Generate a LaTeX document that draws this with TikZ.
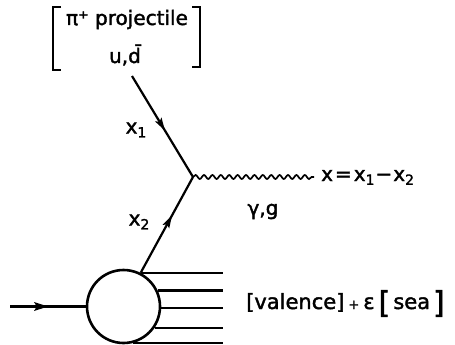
\documentclass[tikz,border=0pt]{standalone}
\usepackage{fontspec}
\setmainfont[FakeBold=1.8]{DejaVu Sans}
\usetikzlibrary{calc,decorations.pathmorphing}
\newcommand\sbx[1]{\raisebox{-0.35ex}{\fontsize{14}{14}\selectfont #1}}
% filled arrowhead: #1 tip, #2 point behind, #3 length, #4 half width
\newcommand\headtip[4]{%
  \fill ($(#1)!#3!(#2)$) coordinate (hb)
        ($(hb)!#4!90:(#1)$) -- (#1) -- ($(hb)!#4!-90:(#1)$) -- ($(#1)!0.8*#3!(#2)$) -- cycle;}
\begin{document}
\begin{tikzpicture}[x=1pt,y=-1pt,
  line/.style={line width=2.2pt},
  lbl/.style={inner sep=0pt,font=\fontsize{20}{20}\selectfont},
  brk/.style={line width=2.4pt}]
\useasboundingbox (0,0) rectangle (455,345);
% points
\coordinate (top) at (132,76);
\coordinate (v) at (193,177);
\coordinate (w) at (314,177);
\coordinate (in) at (10,306.5);
\coordinate (rx) at (223,0);
\node[circle,draw,line width=2.6pt,minimum size=73pt,inner sep=0pt] (blob) at (123.5,306.5) {};
% projectile label
\node[lbl,anchor=base] (proj1) at (127,25) {π⁺ projectile};
\node[lbl,anchor=base] (proj2) at (125,63) {u,\=d};
\draw[brk] (61,7) -- (53,7) -- (53,70) -- (61,70);
\draw[brk] (192,7) -- (200,7) -- (200,67) -- (192,67);
% quark lines
\draw[line] (top) -- (v);
\coordinate (t1) at ($(top)!0.54!(v)$);
\headtip{t1}{top}{13pt}{3.8pt}
\draw[line] (blob.63.8) -- (v);
\coordinate (t2) at ($(blob.63.8)!0.6!(v)$);
\headtip{t2}{blob.63.8}{13pt}{3.8pt}
\draw[line width=1.7pt,decorate,decoration={snake,segment length=8.4pt,amplitude=2pt}] (v) -- (w);
% labels
\node[lbl] (x1) at (136,130) {x\sbx{1}};
\node[lbl] (x2) at (139,222) {x\sbx{2}};
\node[lbl,anchor=base west] (xeq) at (321,181) {x\hspace{2pt}=\hspace{2pt}x\sbx{1}\hspace{1pt}−\hspace{1pt}x\sbx{2}};
\node[lbl,anchor=base] (gg) at (263,215) {γ,g};
% incoming hadron
\draw[line width=3.8pt] (in) -- (blob.west);
\coordinate (t3) at (48,306.5);
\headtip{t3}{in}{14pt}{4.5pt}
% outgoing fragments
\foreach \a in {63.8,25.1,-2.4,-34.2,-76.6}
  \draw[line] (blob.\a) -- (blob.\a -| rx);
\node[lbl,anchor=base west,font=\fontsize{21}{21}\selectfont] (vs) at (246,309)
  {[valence]\hspace{4pt}{\fontsize{13}{13}\selectfont +}\hspace{4pt}ε\hspace{4pt}\raisebox{-4pt}{\fontsize{30}{30}\selectfont [}\hspace{3pt}sea\hspace{3pt}\raisebox{-4pt}{\fontsize{30}{30}\selectfont ]}};
\end{tikzpicture}
\end{document}
